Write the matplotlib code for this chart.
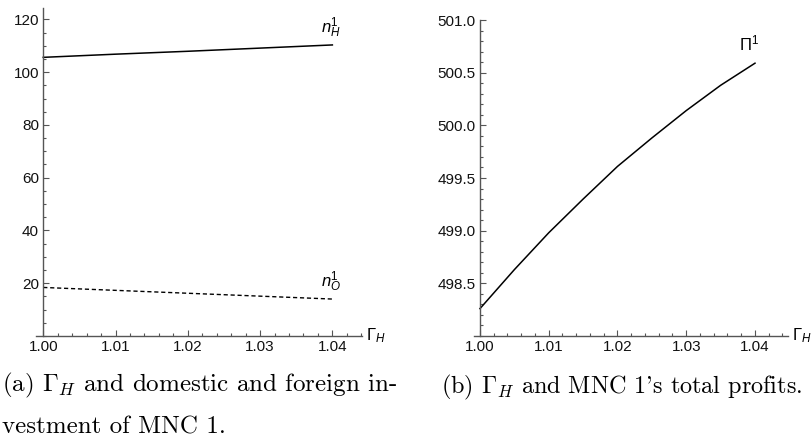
import numpy as np
import matplotlib
matplotlib.use("Agg")
import matplotlib.pyplot as plt
from matplotlib.ticker import MultipleLocator, FormatStrFormatter

# values
gamma = [1.00, 1.01, 1.02, 1.03, 1.04]
n_h = [105.6, 106.8, 107.9, 109.1, 110.3]
n_o = [18.4, 17.3, 16.2, 15.1, 14.0]

gamma_p = [1.000, 1.005, 1.010, 1.015, 1.020, 1.025, 1.030, 1.035, 1.040]
profit = [498.26, 498.63, 498.98, 499.30, 499.61, 499.88, 500.14, 500.38, 500.59]

plt.rcParams['font.family'] = ['Liberation Sans', 'DejaVu Sans']
plt.rcParams['mathtext.fontset'] = 'custom'
plt.rcParams['mathtext.rm'] = 'Liberation Sans'
plt.rcParams['mathtext.it'] = 'Liberation Sans:italic'
plt.rcParams['mathtext.bf'] = 'Liberation Sans:bold'

AXIS_COL = '#555555'


def style_axes(ax, x0, ylo, yminor):
    for s in ['top', 'right']:
        ax.spines[s].set_visible(False)
    ax.spines['left'].set_position(('data', x0))
    ax.spines['bottom'].set_position(('data', ylo))
    for s in ['left', 'bottom']:
        ax.spines[s].set_color(AXIS_COL)
        ax.spines[s].set_linewidth(1.0)
    ax.xaxis.set_major_locator(MultipleLocator(0.01))
    ax.xaxis.set_minor_locator(MultipleLocator(0.002))
    ax.xaxis.set_major_formatter(FormatStrFormatter('%.2f'))
    ax.yaxis.set_minor_locator(MultipleLocator(yminor))
    ax.tick_params(which='both', direction='in', color=AXIS_COL,
                   labelsize=11, labelcolor='#111111', width=0.8)
    ax.tick_params(which='major', length=4, pad=3)
    ax.tick_params(which='minor', length=2.3)
    ax.patch.set_alpha(0)


fig = plt.figure(figsize=(8.12, 4.45), dpi=100)

# left panel
ax1 = fig.add_axes([36 / 812, 1 - 336 / 445, 326 / 812, 328 / 445])
ax1.plot(gamma, n_h, color='black', lw=1.1)
ax1.plot(gamma, n_o, color='black', lw=1.0, ls=(0, (3, 2)))
ax1.set_xlim(0.999, 1.0441)
ax1.set_ylim(0, 124.3)
ax1.set_yticks([20, 40, 60, 80, 100, 120])
style_axes(ax1, 1.0, 0, 5)
ax1.text(1.0398, 112.3, r'$n_H^1$', fontsize=12, ha='center', va='bottom')
ax1.text(1.0398, 16.0, r'$n_O^1$', fontsize=12, ha='center', va='bottom')
ax1.text(1.0447, 0, r'$\Gamma_H$', fontsize=12, ha='left', va='center')

# right panel
ax2 = fig.add_axes([474 / 812, 1 - 336 / 445, 314 / 812, 316 / 445])
ax2.plot(gamma_p, profit, color='black', lw=1.1)
ax2.set_xlim(0.99913, 1.0448)
ax2.set_ylim(498.0, 501.0)
ax2.set_yticks([498.5, 499.0, 499.5, 500.0, 500.5, 501.0])
ax2.yaxis.set_major_formatter(FormatStrFormatter('%.1f'))
style_axes(ax2, 1.0, 498.0, 0.1)
ax2.text(1.0392, 500.68, r'$\Pi^1$', fontsize=12, ha='center', va='bottom')
ax2.text(1.0454, 498.0, r'$\Gamma_H$', fontsize=12, ha='left', va='center')

# captions
cap = dict(family='cmr10', fontsize=18, math_fontfamily='cm', color='black')
fig.text(2 / 812, 1 - 385 / 445, r'(a) $\Gamma_H$ and domestic and foreign in-',
         ha='left', va='center', **cap)
fig.text(2 / 812, 1 - 427 / 445, 'vestment of MNC 1.', ha='left', va='center', **cap)
fig.text(622 / 812, 1 - 387 / 445, r"(b) $\Gamma_H$ and MNC 1's total profits.",
         ha='center', va='center', fontsize=17.4,
         **{k: v for k, v in cap.items() if k != 'fontsize'})

fig.savefig('out.png', dpi=100)
